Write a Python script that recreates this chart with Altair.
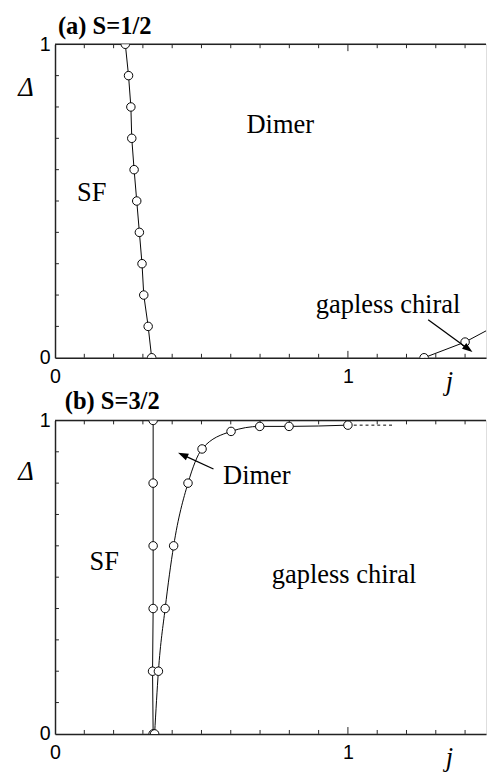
import altair as alt
import pandas as pd

# ---------------- data ----------------
# panel (a) S=1/2
a_sf_delta = [1.0, 0.9, 0.8, 0.7, 0.6, 0.5, 0.4, 0.3, 0.2, 0.1, 0.0]
a_sf_j = [0.240, 0.251, 0.259, 0.262, 0.270, 0.279, 0.288, 0.297, 0.303, 0.318, 0.330]
a_gc_j = [1.26, 1.40, 1.50]
a_gc_delta = [0.0, 0.05, 0.10]

# panel (b) S=3/2
b_sf_j = [0.335, 0.333, 0.335, 0.335, 0.335, 0.335]
b_sf_delta = [0.0, 0.2, 0.4, 0.6, 0.8, 1.0]
b_dc_j = [0.340, 0.353, 0.376, 0.405, 0.454, 0.502, 0.601, 0.699, 0.799, 1.0]
b_dc_delta = [0.0, 0.2, 0.4, 0.6, 0.8, 0.909, 0.965, 0.981, 0.981, 0.985]
b_dash_j = [1.0, 1.16]
b_dash_delta = [0.985, 0.985]

# panel titles and region labels
a_title = "(a) S=1/2"
b_title = "(b) S=3/2"
a_text = ["Dimer", "SF", "gapless chiral"]
a_text_j = [0.769, 0.125, 1.137]
a_text_delta = [0.718, 0.499, 0.143]
b_text = ["Dimer", "SF", "gapless chiral"]
b_text_j = [0.689, 0.168, 0.987]
b_text_delta = [0.797, 0.524, 0.482]

# arrows: start -> head
a_arrow = dict(j=1.274, delta=0.121, j2=1.411, delta2=0.028, ang=36.3)
b_arrow = dict(j=0.541, delta=0.845, j2=0.436, delta2=0.890, ang=205.0)

# axis ticks
x_minor = [0.1, 0.2, 0.3, 0.4, 0.5, 0.6, 0.7, 0.8, 0.9, 1.1, 1.2, 1.3, 1.4]
x_major = [1.0]
y_minor = [0.1, 0.2, 0.3, 0.4, 0.5, 0.6, 0.7, 0.8, 0.9]
tick_labels = [0, 1]

W, H = 440, 320
XMAX = 440 / 299.0
SERIF = "Liberation Serif"
SANS = "Liberation Sans"
ARROW = "M 1 0 L -1 -0.7 L -1 0.7 Z"


def xy(dtitle_y):
    xaxis = alt.Axis(values=tick_labels, format="d", grid=False, ticks=False, tickSize=0,
                     domain=True, domainColor="#222", domainWidth=1.5,
                     labelFont=SANS, labelFontSize=20, labelColor="black",
                     labelPadding=9, labelFlush=False,
                     title="j", titleFont=SERIF, titleFontStyle="italic",
                     titleFontWeight="normal", titleFontSize=27, titleColor="black",
                     titleX=402, titleY=32, titleAlign="center",
                     titleBaseline="alphabetic")
    yaxis = alt.Axis(values=tick_labels, format="d", grid=False, ticks=False, tickSize=0,
                     domain=True, domainColor="#222", domainWidth=1.5,
                     labelFont=SANS, labelFontSize=20, labelColor="black",
                     labelPadding=5, labelFlush=False,
                     title="Δ", titleFont=SERIF, titleFontStyle="italic",
                     titleFontWeight="normal", titleFontSize=27, titleColor="black",
                     titleAngle=0, titleX=-30, titleY=dtitle_y,
                     titleAlign="center", titleBaseline="middle")
    X = alt.X("j:Q", scale=alt.Scale(domain=[0, XMAX], nice=False, zero=False), axis=xaxis)
    Y = alt.Y("delta:Q", scale=alt.Scale(domain=[0, 1], nice=False), axis=yaxis)
    return X, Y


def frame_layers(X, Y):
    xm = pd.DataFrame({"j": x_minor})
    xM = pd.DataFrame({"j": x_major})
    ym = pd.DataFrame({"delta": y_minor})
    one = pd.DataFrame({"j": [0.0]})
    # invisible anchor fixing the panel's outer top-left bound
    anchor = alt.Chart(one).mark_rule(opacity=0, strokeWidth=1).encode(
        x=alt.value(-47), x2=alt.value(-46), y=alt.value(-36), y2=alt.value(-35))
    top = alt.Chart(one).mark_rule(color="#222", strokeWidth=1.5).encode(
        x=alt.value(0), x2=alt.value(W), y=alt.value(0))
    bm = alt.Chart(xm).mark_rule(color="#222", strokeWidth=1).encode(x=X, y=alt.value(H), y2=alt.value(H - 4))
    bM = alt.Chart(xM).mark_rule(color="#222", strokeWidth=1).encode(x=X, y=alt.value(H), y2=alt.value(H - 7))
    tm = alt.Chart(xm).mark_rule(color="#222", strokeWidth=1).encode(x=X, y=alt.value(0), y2=alt.value(4))
    tM = alt.Chart(xM).mark_rule(color="#222", strokeWidth=1).encode(x=X, y=alt.value(0), y2=alt.value(7))
    lm = alt.Chart(ym).mark_rule(color="#222", strokeWidth=1).encode(y=Y, x=alt.value(0), x2=alt.value(4))
    return [anchor, top, bm, bM, tm, tM, lm]


def series(X, Y, js, ds, interp="linear", dash=None, points=True):
    df = pd.DataFrame({"j": js, "delta": ds, "k": list(range(len(js)))})
    kw = dict(color="black", strokeWidth=1, clip=True, interpolate=interp)
    if dash:
        kw["strokeDash"] = dash
    line = alt.Chart(df).mark_line(**kw).encode(x=X, y=Y, order="k:Q")
    if not points:
        return [line]
    pts = alt.Chart(df).mark_point(shape="circle", filled=True, fill="white", stroke="black",
                                   strokeWidth=1, size=75, opacity=1, clip=True).encode(x=X, y=Y)
    return [line, pts]


def labels(X, Y, texts, js, ds):
    df = pd.DataFrame({"t": texts, "j": js, "delta": ds})
    return alt.Chart(df).mark_text(font=SERIF, fontSize=27, color="black", align="center",
                                   baseline="alphabetic").encode(x=X, y=Y, text="t:N")


def title_mark(text, dx, dy):
    df = pd.DataFrame({"t": [text]})
    return alt.Chart(df).mark_text(font=SERIF, fontSize=25, fontWeight="bold", color="black",
                                   align="left", baseline="alphabetic").encode(
        x=alt.value(dx), y=alt.value(dy), text="t:N")


def arrow(X, Y, a):
    df = pd.DataFrame([a])
    shaft = alt.Chart(df).mark_rule(color="black", strokeWidth=1.3).encode(
        x=X, y=Y, x2="j2:Q", y2="delta2:Q")
    head = alt.Chart(df).mark_point(shape=ARROW, filled=True, color="black", opacity=1,
                                    size=110).encode(
        x=alt.X("j2:Q", scale=alt.Scale(domain=[0, XMAX], nice=False, zero=False)),
        y=alt.Y("delta2:Q", scale=alt.Scale(domain=[0, 1], nice=False)),
        angle=alt.value(a["ang"]))
    return [shaft, head]


# ---- panel (a)
Xa, Ya = xy(44)
layers_a = frame_layers(Xa, Ya)
layers_a += series(Xa, Ya, a_sf_j, a_sf_delta)
layers_a += series(Xa, Ya, a_gc_j, a_gc_delta)
layers_a += [labels(Xa, Ya, a_text, a_text_j, a_text_delta), title_mark(a_title, 3, -11)]
layers_a += arrow(Xa, Ya, a_arrow)
panel_a = alt.layer(*layers_a).properties(width=W, height=H)

# ---- panel (b)
Xb, Yb = xy(52)
layers_b = frame_layers(Xb, Yb)
layers_b += series(Xb, Yb, b_dash_j, b_dash_delta, dash=[3, 3], points=False)
layers_b += series(Xb, Yb, b_sf_j, b_sf_delta)
layers_b += series(Xb, Yb, b_dc_j, b_dc_delta, interp="monotone")
layers_b += [labels(Xb, Yb, b_text, b_text_j, b_text_delta), title_mark(b_title, 10, -12)]
layers_b += arrow(Xb, Yb, b_arrow)
panel_b = alt.layer(*layers_b).properties(width=W, height=H)

chart = alt.vconcat(panel_a, panel_b, spacing=64, bounds="flush").properties(
    padding={"left": 0, "top": -8, "right": 0, "bottom": 0}
).configure_view(stroke=None).configure(background="white")

chart.save("out.html", embed_options={"renderer": "svg", "actions": False})
